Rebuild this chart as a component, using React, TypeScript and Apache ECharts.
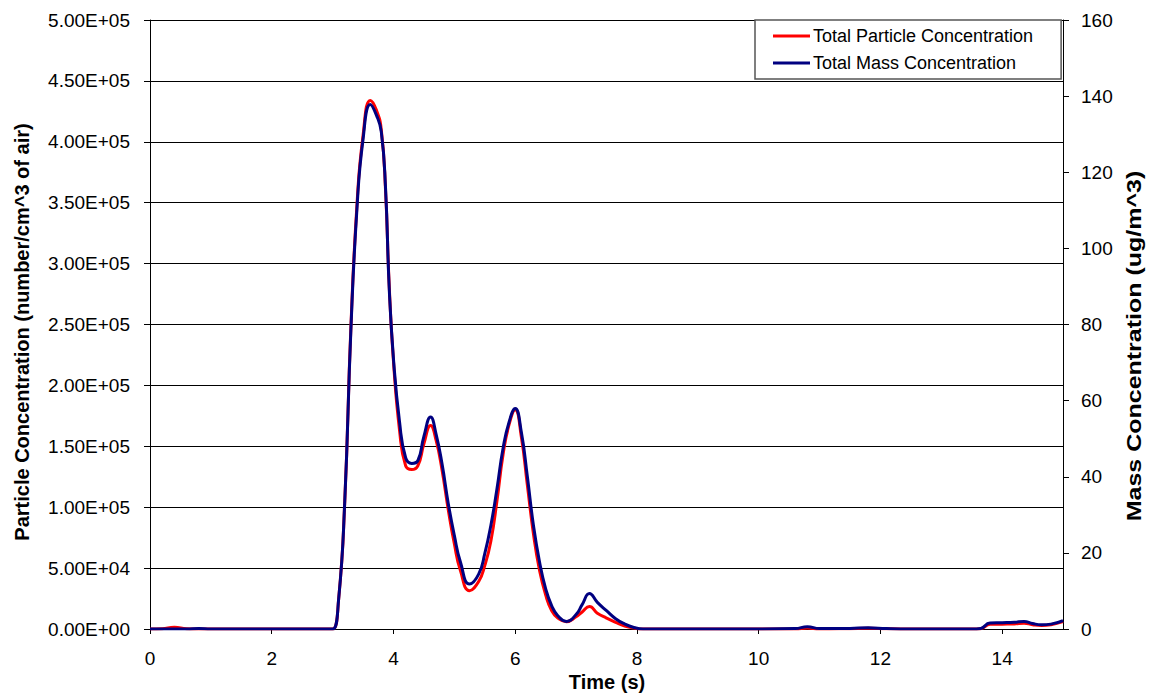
import React, { useEffect, useRef } from "react";
import * as echarts from "echarts";

// Time (s)
const time = [
  0, 0.2, 0.4, 0.6, 0.8, 1.0,
  1.5, 2.0, 2.5, 2.9,
  3.0, 3.1, 3.2, 3.3, 3.4, 3.5,
  3.62, 3.72, 3.8, 3.87, 3.93,
  4.0, 4.1, 4.2, 4.3, 4.4, 4.5,
  4.61, 4.7, 4.8, 4.9,
  5.0, 5.1, 5.25, 5.4, 5.5, 5.6, 5.7, 5.8, 5.9,
  6.0, 6.1, 6.2, 6.3, 6.4, 6.5, 6.6, 6.7, 6.84,
  7.0, 7.1, 7.22, 7.35, 7.5, 7.65, 7.8, 7.95, 8.1,
  9, 10, 10.6, 10.8, 11.0,
  11.5, 11.8, 12.1, 12.5, 13, 13.5,
  13.65, 13.8, 14.0, 14.2, 14.36, 14.5, 14.65, 14.8, 15,
];

// Total Particle Concentration (number/cm^3 of air)
const particle = [
  0, 300, 1500, 300, 0, 0,
  0, 0, 0, 0,
  0, 25000, 105000, 247000, 348000, 405000,
  434000, 426000, 410000, 360000, 282000,
  220000, 163000, 134000, 131000, 134000, 152000,
  167000, 155000, 130000, 98000,
  70000, 48000, 31500, 39000, 52000, 72000, 105000, 143000, 168000,
  180000, 158000, 118000, 78000, 48000, 28000, 15000, 9000, 6000,
  10000, 14000, 18400, 13000, 9000, 5500, 2500, 800, 0,
  0, 0, 0, 800, 0,
  300, 600, 200, 0, 0, 0,
  300, 3800, 4000, 4200, 4800, 3500, 2800, 3500, 6000,
];

// Total Mass Concentration (ug/m^3)
const mass = [
  0, 0, 0, 0, 0.16, 0,
  0, 0, 0, 0,
  0, 8, 33.6, 78.4, 110.4, 128.6,
  137.8, 135, 130.6, 115.8, 89.6,
  71, 54.4, 45, 43.5, 44.2, 50.6,
  55.7, 51.2, 43.2, 33,
  24.6, 17.6, 11.8, 14.4, 19.8, 27.2, 36.8, 47.4, 54.4,
  57.9, 51.8, 40, 27.2, 17.6, 10.6, 6.1, 3.5, 2.0,
  3.8, 6.4, 9.3, 7.0, 4.8, 2.7, 1.3, 0.4, 0,
  0, 0, 0.1, 0.6, 0.1,
  0.16, 0.3, 0.1, 0, 0, 0,
  0.16, 1.6, 1.66, 1.76, 2.0, 1.44, 1.12, 1.28, 2.18,
];

const seriesNames = ["Total Particle Concentration", "Total Mass Concentration"];
const leftAxisName = "Particle Concentration (number/cm^3 of air)";
const rightAxisName = "Mass Concentration (ug/m^3)";
const xAxisName = "Time (s)";

const FONT = "Arial, 'Liberation Sans', sans-serif";

function sci(v: number): string {
  if (v === 0) return "0.00E+00";
  const e = Math.floor(Math.log10(v) + 1e-9);
  const m = v / Math.pow(10, e);
  return m.toFixed(2) + "E+" + String(e).padStart(2, "0");
}

export default function App() {
  const ref = useRef<HTMLDivElement>(null);
  useEffect(() => {
    if (!ref.current) return;
    const chart = echarts.init(ref.current, undefined, { renderer: "svg" });
    const pData = time.map((t, i) => [t, particle[i]]);
    const mData = time.map((t, i) => [t, mass[i]]);
    chart.setOption({
      animation: false,
      backgroundColor: "#ffffff",
      grid: { left: 150, right: 90, top: 20, bottom: 69, containLabel: false },
      legend: {
        orient: "vertical",
        left: 755,
        top: 20,
        padding: [7, 28, 7, 18],
        itemGap: 9,
        itemWidth: 37,
        itemHeight: 3,
        icon: "rect",
        backgroundColor: "#ffffff",
        borderColor: "#555555",
        borderWidth: 1.5,
        textStyle: { fontFamily: FONT, fontSize: 18, color: "#000", lineHeight: 18, padding: [0, 0, 0, -2] },
        data: seriesNames,
      },
      xAxis: {
        type: "value",
        min: 0,
        max: 15,
        interval: 2,
        axisLine: { show: true, lineStyle: { color: "#000", width: 1 } },
        axisTick: { show: true, inside: false, length: 5, lineStyle: { color: "#000" } },
        axisLabel: {
          fontFamily: FONT,
          fontSize: 19,
          color: "#000",
          margin: 20,
          showMaxLabel: false,
        },
        splitLine: { show: false },
      },
      yAxis: [
        {
          type: "value",
          min: 0,
          max: 500000,
          interval: 50000,
          position: "left",
          axisLine: { show: true, lineStyle: { color: "#000", width: 1 } },
          axisTick: { show: true, inside: false, length: 6, lineStyle: { color: "#000" } },
          axisLabel: {
            fontFamily: FONT,
            fontSize: 19,
            color: "#000",
            margin: 20,
            formatter: (v: number) => sci(v),
          },
          splitLine: { show: true, lineStyle: { color: "#000", width: 1 } },
        },
        {
          type: "value",
          min: 0,
          max: 160,
          interval: 20,
          position: "right",
          axisLine: { show: true, lineStyle: { color: "#000", width: 1 } },
          axisTick: { show: true, inside: false, length: 6, lineStyle: { color: "#000" } },
          axisLabel: { fontFamily: FONT, fontSize: 19, color: "#000", margin: 18 },
          splitLine: { show: false },
        },
      ],
      graphic: [
        {
          type: "text",
          x: 22,
          y: 332,
          rotation: Math.PI / 2,
          style: {
            text: leftAxisName,
            fontFamily: FONT,
            fontSize: 20,
            fontWeight: "bold",
            fill: "#000",
            textAlign: "center",
            textVerticalAlign: "middle",
          },
        },
        {
          type: "text",
          x: 1134,
          y: 346,
          rotation: Math.PI / 2,
          scaleX: 1.19,
          style: {
            text: rightAxisName,
            fontFamily: FONT,
            fontSize: 21,
            fontWeight: "bold",
            fill: "#000",
            textAlign: "center",
            textVerticalAlign: "middle",
          },
        },
        {
          type: "text",
          x: 607,
          y: 682,
          style: {
            text: xAxisName,
            fontFamily: FONT,
            fontSize: 20,
            fontWeight: "bold",
            fill: "#000",
            textAlign: "center",
            textVerticalAlign: "middle",
          },
        },
      ],
      series: [
        {
          name: seriesNames[0],
          type: "line",
          yAxisIndex: 0,
          data: pData,
          smooth: 0.5,
          showSymbol: false,
          symbol: "none",
          lineStyle: { color: "#ff0000", width: 3 },
          itemStyle: { color: "#ff0000" },
        },
        {
          name: seriesNames[1],
          type: "line",
          yAxisIndex: 1,
          data: mData,
          smooth: 0.5,
          showSymbol: false,
          symbol: "none",
          lineStyle: { color: "#000080", width: 3 },
          itemStyle: { color: "#000080" },
        },
      ],
    });
    return () => chart.dispose();
  }, []);
  return (
    <div
      ref={ref}
      style={{ position: "fixed", left: 0, top: 0, width: 1153, height: 698, background: "#fff" }}
    />
  );
}
